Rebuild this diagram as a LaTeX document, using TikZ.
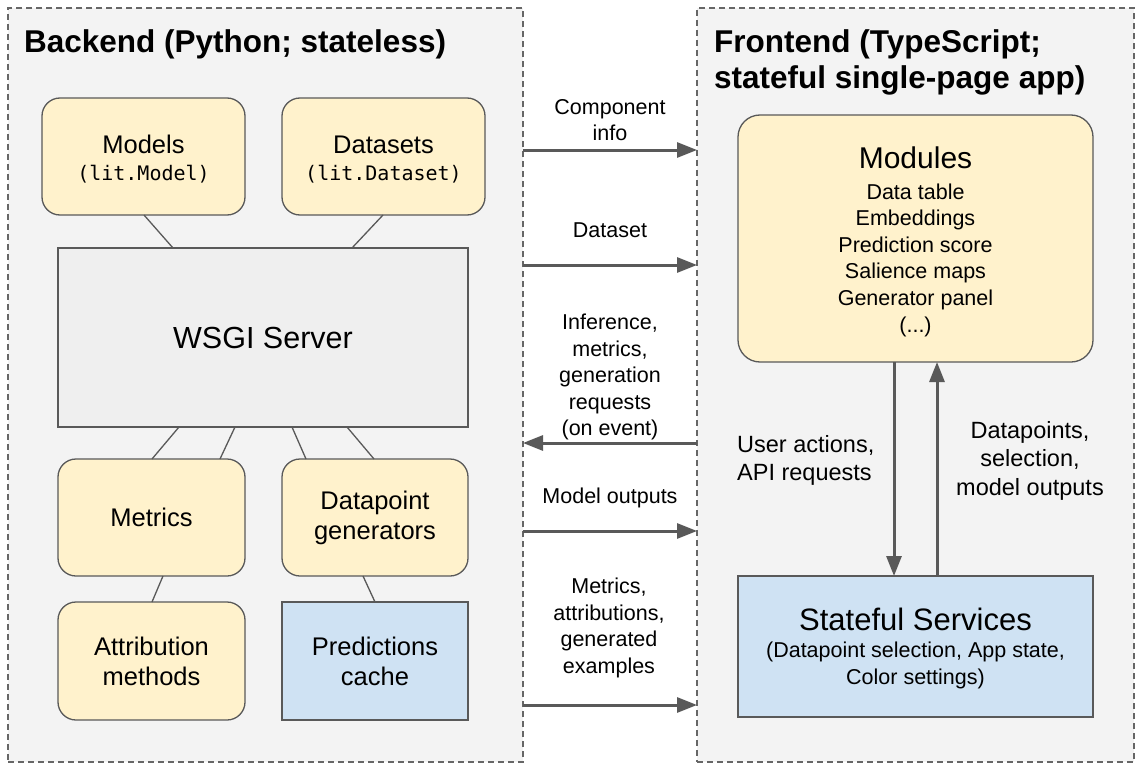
\documentclass[tikz,border=0pt]{standalone}
\usepackage{fontspec}
\setmainfont{Liberation Sans}
\newfontfamily\codefont{DejaVu Sans Mono}
\usetikzlibrary{arrows.meta}
\definecolor{panelfill}{HTML}{F3F3F3}
\definecolor{paneldraw}{HTML}{666666}
\definecolor{yel}{HTML}{FFF2CC}
\definecolor{blu}{HTML}{CFE2F3}
\definecolor{wsgifill}{HTML}{EFEFEF}
\definecolor{edge}{HTML}{595959}
\newcommand{\fsz}[2]{\fontsize{#1bp}{#2bp}\selectfont}
\begin{document}
\begin{tikzpicture}[x=1bp,y=-1bp,
  panel/.style={draw=paneldraw, fill=panelfill, line width=1.2bp, dash pattern=on 6bp off 4bp, inner sep=0pt, outer sep=0pt, anchor=north west},
  ptitle/.style={font=\fsz{31.5}{36}\bfseries, inner sep=0pt, align=left},
  box/.style={draw=edge, line width=1.3bp, inner sep=0pt, outer sep=0pt, align=center, font=\fsz{25.5}{30}},
  ybox/.style={box, fill=yel, rounded corners=18bp},
  bbox/.style={box, fill=blu},
  lbl/.style={font=\fsz{21.5}{26.5}, inner sep=0pt, align=center},
  flbl/.style={font=\fsz{23.5}{28.5}, inner sep=0pt},
  arr/.style={draw=edge, line width=3bp, -{Triangle[length=20bp,width=15bp]}},
  link/.style={draw=edge, line width=1.3bp}
]
\useasboundingbox (0,0) rectangle (1138,767);
\fill[white] (0,0) rectangle (1138,767);

% panels
\node[panel, minimum width=515bp, minimum height=754bp] (backend) at (8,8) {};
\node[panel, minimum width=437bp, minimum height=754bp] (frontend) at (697,8) {};
\node[ptitle, anchor=base west] (btitle) at (24,53) {Backend (Python; stateless)};
\node[ptitle, anchor=west] (ftitle) at (714,62.5) {Frontend (TypeScript;\\stateful single-page app)};

% backend boxes
\node[ybox, minimum width=203bp, minimum height=117bp] (models) at (143.5,156.5)
  {\rule{0pt}{24bp}Models\\[-3.5bp]{\codefont\fsz{20}{26}(lit.Model)}};
\node[ybox, minimum width=203bp, minimum height=117bp] (datasets) at (383.5,156.5)
  {\rule{0pt}{24bp}Datasets\\[-3.5bp]{\codefont\fsz{20}{26}(lit.Dataset)}};
\node[box, fill=wsgifill, minimum width=410bp, minimum height=179bp, font=\fsz{30.5}{36}] (wsgi) at (263,337.5) {WSGI Server};
\node[ybox, minimum width=187bp, minimum height=117bp] (metrics) at (151.5,517.5) {Metrics};
\node[ybox, minimum width=186bp, minimum height=117bp] (dpgen) at (375,517.5) {Datapoint\\generators};
\node[ybox, minimum width=187bp, minimum height=118bp] (attrib) at (151.5,661) {Attribution\\methods};
\node[bbox, minimum width=186bp, minimum height=118bp] (cache) at (375,661) {Predictions\\cache};

% links
\draw[link] (models.south -| 144,0) -- (wsgi.north -| 173,0);
\draw[link] (datasets.south -| 383,0) -- (wsgi.north -| 352,0);
\draw[link] (wsgi.south -| 179,0) -- (metrics.north -| 152,0);
\draw[link] (wsgi.south -| 235,0) -- (metrics.north -| 220,0);
\draw[link] (wsgi.south -| 292,0) -- (dpgen.north -| 306,0);
\draw[link] (wsgi.south -| 347,0) -- (dpgen.north -| 374,0);
\draw[link] (metrics.south -| 163,0) -- (attrib.north -| 152,0);
\draw[link] (dpgen.south -| 363,0) -- (cache.north -| 375,0);

% frontend boxes
\node[ybox, rounded corners=22bp, minimum width=355bp, minimum height=247bp, font=\fsz{21.5}{26.6}] (modules) at (915.5,238.5)
  {{\fsz{30}{26.6}\rule{0pt}{28bp}Modules}\\[4bp]Data table\\Embeddings\\Prediction score\\Salience maps\\Generator panel\\(...)};
\node[bbox, minimum width=355bp, minimum height=141bp, font=\fsz{21.5}{27}] (stateful) at (915.5,646.5)
  {{\fsz{31}{27}\rule{0pt}{27bp}Stateful Services}\\(Datapoint selection, App state,\\Color settings)};

% inter-panel arrows
\draw[arr] (backend.east |- 0,150) -- (frontend.west |- 0,150);
\draw[arr] (backend.east |- 0,265) -- (frontend.west |- 0,265);
\draw[arr] (frontend.west |- 0,443) -- (backend.east |- 0,443);
\draw[arr] (backend.east |- 0,531) -- (frontend.west |- 0,531);
\draw[arr] (backend.east |- 0,705) -- (frontend.west |- 0,705);

\node[lbl] (l1) at (610,120) {Component\\info};
\node[lbl, anchor=base] (l2) at (610,237) {Dataset};
\node[lbl] (l3) at (610,377) {Inference,\\metrics,\\generation\\requests\\(on event)};
\node[lbl, anchor=base] (l4) at (610,503) {Model outputs};
\node[lbl] (l5) at (609,628) {Metrics,\\attributions,\\generated\\examples};

% frontend vertical arrows
\draw[arr] (modules.south -| 894,0) -- (stateful.north -| 894,0);
\draw[arr] (stateful.north -| 937,0) -- (modules.south -| 937,0);
\node[flbl, align=left, anchor=west] (l6) at (737,460.5) {User actions,\\API requests};
\node[flbl, align=center] (l7) at (1030,460.5) {Datapoints,\\selection,\\model outputs};
\end{tikzpicture}
\end{document}
